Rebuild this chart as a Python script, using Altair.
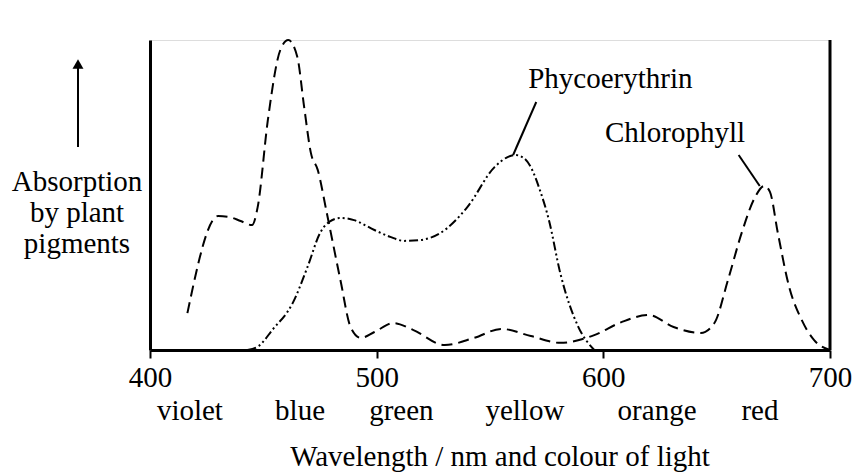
import altair as alt
import pandas as pd

# Chlorophyll absorption (arbitrary units 0-100)
chl_nm = [416.5, 430, 435, 440, 445, 447.5, 452, 457.5, 461, 465, 468, 471, 474, 478, 484,
          488.5, 493, 499, 507.5, 516, 530, 543, 555, 568, 581, 596, 608, 620, 631, 643,
          649, 655, 661, 667, 671, 673.5, 677, 682, 687.5, 693, 700]
chl_px = [313, 216, 217, 221, 225, 207, 120, 50, 40, 57, 107, 153, 170, 213, 280,
          327, 338, 332, 323, 330, 345, 338, 329, 336, 343, 335, 322, 315, 327, 333,
          323, 280, 233, 197, 186, 192, 233, 287, 320, 340, 350]
chl_abs = [round((350 - p) / 3.1, 1) for p in chl_px]

# Phycoerythrin absorption
phy_nm = [443, 448, 454, 463, 469.5, 475, 479, 484, 490, 499, 506, 512, 519.5, 528, 540,
          552, 558, 561, 565, 568, 572, 576, 581, 589, 596]
phy_px = [350, 346, 330, 303, 267, 233, 222, 218, 220, 230, 237, 241, 240, 233, 207,
          167, 157, 155, 158, 167, 190, 220, 273, 327, 350]
phy_abs = [round((350 - p) / 3.1, 1) for p in phy_px]

colour_names = ["violet", "blue", "green", "yellow", "orange", "red"]
colour_nm = [417.6, 466.2, 510.9, 565.4, 623.7, 669.1]

pigment_labels = ["Phycoerythrin", "Chlorophyll"]
label_nm = [603.1, 631.6]
label_abs = [84.5, 67.1]

leader_nm = [560.2, 659.7]
leader_abs = [62.9, 62.9]
leader_nm2 = [570.4, 669.0]
leader_abs2 = [80.0, 52.9]

ylabel_lines = ["Absorption", "by plant", "pigments"]

FONT = "'Liberation Serif', 'Times New Roman', 'DejaVu Serif', serif"
FS = 29

chl = pd.DataFrame({"nm": chl_nm, "a": chl_abs})
phy = pd.DataFrame({"nm": phy_nm, "a": phy_abs})

xs = alt.Scale(domain=[400, 700], nice=False)
ys = alt.Scale(domain=[0, 100], nice=False)

x_axis = alt.Axis(values=[400, 500, 600, 700], format="d", labelFont=FONT, labelFontSize=FS,
                  labelColor="black", tickColor="black", tickSize=8, tickWidth=2,
                  labelFlush=False, labelOverlap=False, labelBaseline="top",
                  domainColor="black", domainWidth=3, grid=False, title=None, labelPadding=5)
y_axis = alt.Axis(labels=False, ticks=False, domainColor="black", domainWidth=3,
                  grid=False, title=None)

chl_line = alt.Chart(chl).mark_line(color="black", strokeWidth=2, strokeDash=[11, 6],
                                    interpolate="monotone").encode(
    x=alt.X("nm:Q", scale=xs, axis=x_axis),
    y=alt.Y("a:Q", scale=ys, axis=y_axis),
)

phy_line = alt.Chart(phy).mark_line(color="black", strokeWidth=2, strokeDash=[9, 3, 2, 3, 2, 3],
                                    interpolate="monotone").encode(
    x=alt.X("nm:Q", scale=xs),
    y=alt.Y("a:Q", scale=ys),
)

right_axis = alt.Chart(pd.DataFrame({"nm": [700], "a0": [0], "a1": [100]})).mark_rule(
    color="black", strokeWidth=3).encode(
    x=alt.X("nm:Q", scale=xs), y=alt.Y("a0:Q", scale=ys), y2="a1:Q")

leaders = alt.Chart(pd.DataFrame({"nm": leader_nm, "a": leader_abs,
                                  "nm2": leader_nm2, "a2": leader_abs2})).mark_rule(
    color="black", strokeWidth=2).encode(
    x=alt.X("nm:Q", scale=xs), y=alt.Y("a:Q", scale=ys), x2="nm2:Q", y2="a2:Q")

labels = alt.Chart(pd.DataFrame({"nm": label_nm, "a": label_abs, "t": pigment_labels})).mark_text(
    font=FONT, fontSize=FS, color="black", baseline="alphabetic", align="center").encode(
    x=alt.X("nm:Q", scale=xs), y=alt.Y("a:Q", scale=ys), text="t:N")

colours = alt.Chart(pd.DataFrame({"nm": colour_nm, "t": colour_names})).mark_text(
    font=FONT, fontSize=FS, color="black", baseline="alphabetic", align="center").encode(
    x=alt.X("nm:Q", scale=xs), y=alt.value(380), text="t:N")

xtitle = alt.Chart(pd.DataFrame({"t": ["Wavelength / nm and colour of light"]})).mark_text(
    font=FONT, fontSize=FS, color="black", baseline="alphabetic", align="center").encode(
    x=alt.value(350), y=alt.value(426), text="t:N")

ylab = alt.Chart(pd.DataFrame({"t": ylabel_lines, "yy": [151, 182, 213]})).mark_text(
    font=FONT, fontSize=FS, color="black", baseline="alphabetic", align="center").encode(
    x=alt.value(-73), y=alt.Y("yy:Q", scale=None), text="t:N")

arrow_shaft = alt.Chart(pd.DataFrame({"t": [0]})).mark_rule(color="black", strokeWidth=2).encode(
    x=alt.value(-72), y=alt.value(107), y2=alt.value(26))

arrow_head = alt.Chart(pd.DataFrame({"t": [0]})).mark_point(
    shape="triangle-up", filled=True, color="black", size=120, opacity=1).encode(
    x=alt.value(-72), y=alt.value(24))

chart = alt.layer(chl_line, phy_line, right_axis, leaders, labels, colours, xtitle, ylab,
                  arrow_shaft, arrow_head).properties(
    width=680, height=310,
    padding={"left": 150, "top": 40, "right": 29, "bottom": 124},
    autosize="none",
).configure_view(stroke=None).configure(background="white", font=FONT)

chart.save("out.html", embed_options={"renderer": "svg", "actions": False})
